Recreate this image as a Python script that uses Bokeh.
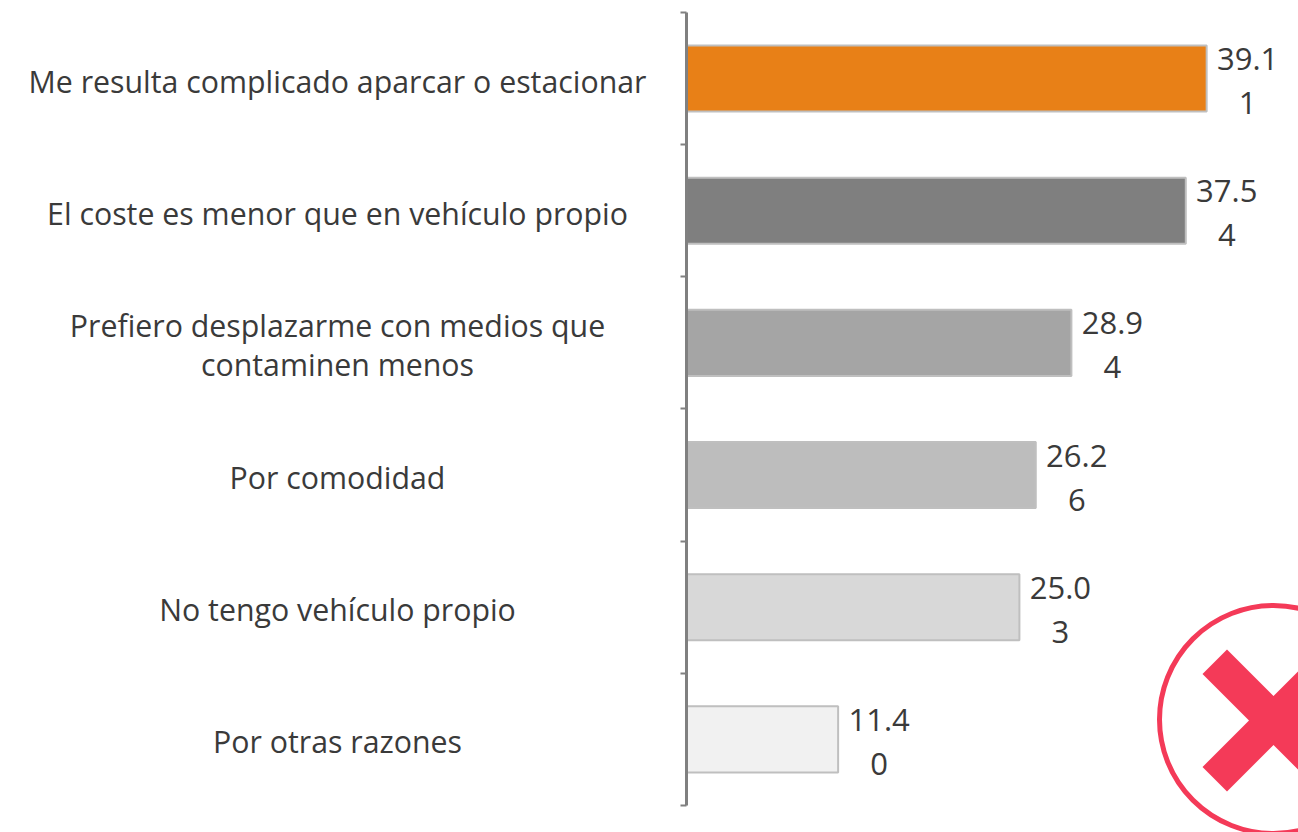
from bokeh.plotting import figure
from bokeh.models import Range1d, ColumnDataSource, LinearAxis, FixedTicker
from bokeh.core.properties import value
from bokeh.embed import file_html
from bokeh.resources import INLINE

categories = ["Me resulta complicado aparcar o estacionar",
              "El coste es menor que en vehículo propio",
              "Prefiero desplazarme con medios que\ncontaminen menos",
              "Por comodidad",
              "No tengo vehículo propio",
              "Por otras razones"]
values = [39.11, 37.54, 28.94, 26.26, 25.03, 11.40]
bar_colors = ["#E88017", "#7F7F7F", "#A5A5A5", "#BDBDBD", "#D8D8D8", "#F1F1F1"]

W, H = 1298, 832
PX_X = 13.3      # pixels per value unit
PX_Y = 132.17    # pixels per category
AX_X = 686       # axis position within the figure
AX_BOTTOM = 805
FONT = value("Open Sans")
TXT = "#3A3A3A"

p = figure(width=W, height=H, output_backend="svg", toolbar_location=None,
           min_border=0, outline_line_color=None,
           x_range=Range1d(-AX_X / PX_X, (W - AX_X) / PX_X),
           y_range=Range1d(-(H - AX_BOTTOM) / PX_Y, AX_BOTTOM / PX_Y),
           x_axis_location=None, y_axis_location=None)
p.grid.visible = False


def dx(px):
    return (px - AX_X) / PX_X


def dy(py):
    return (AX_BOTTOM - py) / PX_Y


n = len(categories)
ys = [n - 0.5 - i for i in range(n)]

p.hbar(y=ys, right=values, left=0, height=0.5, fill_color=bar_colors,
       line_color="#BFBFBF", line_width=2)

axis = LinearAxis(ticker=FixedTicker(ticks=list(range(n + 1))),
                  major_label_overrides={i: "" for i in range(n + 1)}, fixed_location=0,
                  bounds=(0, n),
                  axis_line_color="#808080", axis_line_width=3,
                  major_tick_line_color="#808080", major_tick_line_width=2,
                  major_tick_in=0, major_tick_out=6, minor_tick_line_color=None)
p.add_layout(axis, "left")

# value labels (wrapped like the source: last digit on the second line)
tx, ty, tl = [], [], []
for v, y in zip(values, ys):
    s = f"{v:.2f}"
    for part, off in ((s[:-1], 19.5), (s[-1], -24.5)):
        tx.append(v + 41 / PX_X)
        ty.append(y + off / PX_Y)
        tl.append(part)
p.text(x="x", y="y", text="t", source=ColumnDataSource(dict(x=tx, y=ty, t=tl)),
       text_font=FONT, text_font_size="31px", text_color=TXT,
       text_align="center", text_baseline="middle")

# category labels
cx, cy, cl = [], [], []
for c, y in zip(categories, ys):
    parts = c.split("\n")
    for j, part in enumerate(parts):
        cx.append(dx(337))
        cy.append(y + (((len(parts) - 1) / 2 - j) * 39 - 2.5) / PX_Y)
        cl.append(part)
p.text(x="x", y="y", text="t", source=ColumnDataSource(dict(x=cx, y=cy, t=cl)),
       text_font=FONT, text_font_size="30.3px", text_color=TXT,
       text_align="center", text_baseline="middle")

# red cross badge
RED = "#F43A58"
p.scatter(x=[dx(1273)], y=[dy(719)], size=228, marker="circle", fill_color="white",
          line_color=RED, line_width=5)
c_x, c_y, a, w = 1273, 720, 46.5, 24.5
cross = [(c_x, c_y - w), (c_x + a, c_y - w - a), (c_x + a + w, c_y - a), (c_x + w, c_y),
         (c_x + a + w, c_y + a), (c_x + a, c_y + w + a), (c_x, c_y + w),
         (c_x - a, c_y + w + a), (c_x - a - w, c_y + a), (c_x - w, c_y),
         (c_x - a - w, c_y - a), (c_x - a, c_y - w - a)]
p.patch(x=[dx(q[0]) for q in cross], y=[dy(q[1]) for q in cross],
        fill_color=RED, line_color=None)

open("out.html", "w").write(file_html(p, INLINE))
